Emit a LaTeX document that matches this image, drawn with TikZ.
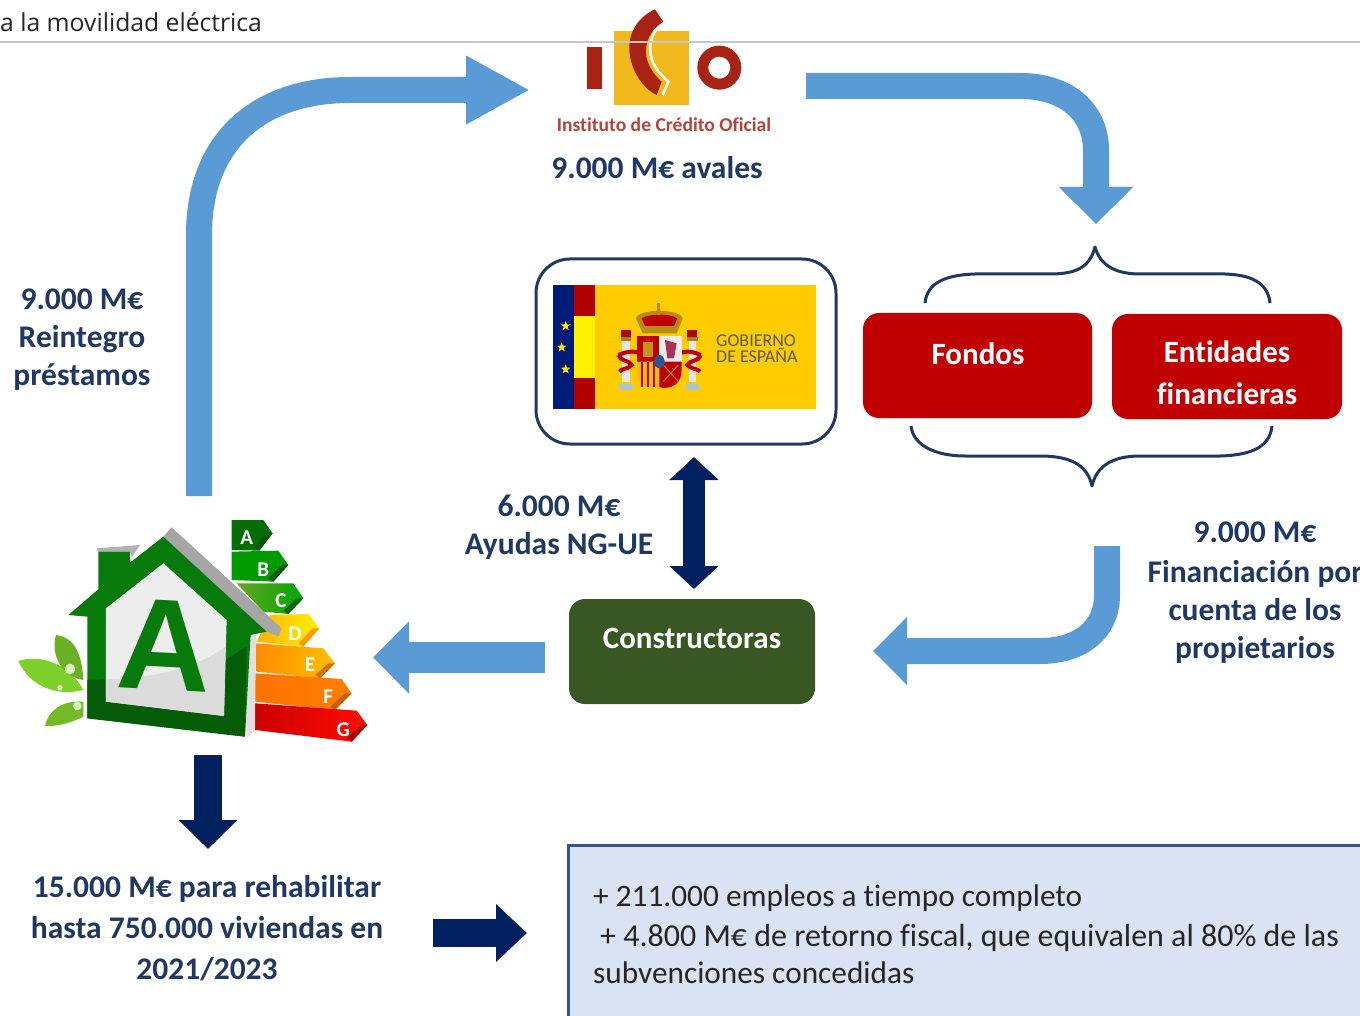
\documentclass[tikz,border=0pt]{standalone}
\usepackage{fontspec}
\setmainfont{Carlito}[Ligatures=NoCommon]
\newfontfamily\hdrfont{Open Sans}
\newfontfamily\heavyfont{Liberation Sans}
\usetikzlibrary{arrows.meta,shapes.geometric}
\definecolor{sky}{HTML}{5B9BD5}
\definecolor{navy}{HTML}{002060}
\definecolor{labelblue}{HTML}{1F3864}
\definecolor{boxred}{HTML}{C00000}
\definecolor{boxgreen}{HTML}{385723}
\definecolor{paleblue}{HTML}{DAE3F3}
\definecolor{edgeblue}{HTML}{2F5597}
\definecolor{icored}{HTML}{A82314}
\definecolor{icoyellow}{HTML}{F2B91E}
\definecolor{govyellow}{HTML}{FFCC00}
\definecolor{housegreen}{HTML}{067A0A}
\definecolor{leafgreen}{HTML}{7FCF2A}
\tikzset{
  flow/.style={draw=sky,line width=26pt,-{Triangle[length=64pt,width=64pt]}},
  flowb/.style={draw=navy,line width=28pt,-{Triangle[length=29pt,width=57pt]}},
  label/.style={text=labelblue,font=\bfseries\fontsize{31.5}{38}\selectfont,align=center,inner sep=0pt},
  boxtext/.style={text=white,font=\bfseries\fontsize{31}{42}\selectfont,align=center,inner sep=0pt},
  redbox/.style={fill=boxred,rounded corners=16pt,inner sep=0pt},
  brace/.style={draw=labelblue,line width=3pt,line join=round},
  result/.style={text=black!85,font=\fontsize{31.3}{38}\selectfont,anchor=mid west,inner sep=0pt},
  barletter/.style={text=white,font=\bfseries\fontsize{21}{21}\selectfont,inner sep=0pt},
  star5/.style={star,star points=5,star point ratio=2.4,fill=yellow!90!orange,minimum size=10pt,inner sep=0pt},
}
\newcommand{\barfacet}[5]{\fill[#1] (#2,#3) -- (#4,#5) -- (#4-14,#5-10) -- (#2-20,#3) -- cycle;}
\begin{document}
\begin{tikzpicture}[x=1pt,y=-1pt]
\clip (0,0) rectangle (1360,1016);
\fill[white] (0,0) rectangle (1360,1016);

% ---- ICO logo
\begin{scope}[shift={(540,0)},x=0.3333pt,y=-0.3333pt]
  \fill[icored] (142,140) rectangle (186,268);
  \fill[icoyellow] (222,92) rectangle (447,316);
  \draw[white,line width=2.5pt] (352,85) .. controls (320,125) and (318,190) .. (385,245) -- (368,285);
  \fill[icored] (345,28) .. controls (285,55) and (265,110) .. (268,150) .. controls (270,200) and (300,260) .. (350,285) -- (365,245) .. controls (335,220) and (315,180) .. (318,150) .. controls (320,110) and (340,85) .. (370,65) -- cycle;
  \draw[icored,line width=11pt] (538,203) circle (49.5);
\end{scope}
\node[text=icored!85,font=\bfseries\fontsize{19.6}{20}\selectfont,inner sep=0pt] (icotext) at (664,125) {Instituto de Crédito Oficial};

% ---- header
\node[anchor=mid west,inner sep=0pt,font=\hdrfont\fontsize{24.7}{25}\selectfont,text=black!85] (hdr) at (0,29) {a la movilidad eléctrica};
\draw[black!22,line width=1.2pt] (0,42) -- (1360,42);

\node[label] (avales) at (657,168) {9.000 M€ avales};

% ---- government box
\node[draw=labelblue,line width=3pt,fill=white,rounded corners=34pt,minimum width=300pt,minimum height=185pt,inner sep=0pt] (gov) at (686,351.5) {};
\begin{scope}[shift={(530,250)},x=0.3333pt,y=-0.3333pt]
  \fill[govyellow] (195,105) rectangle (858,477);
  \fill[navy!85!blue] (70,105) rectangle (132,477);
  \fill[red!70!black] (132,105) rectangle (195,477);
  \fill[yellow] (132,197) rectangle (195,385);
  \node[star5] (s1) at (107,228) {};
  \node[star5] (s2) at (95,292) {};
  \node[star5] (s3) at (107,358) {};
  % columns
  \foreach \cx in {288,487}{
    \fill[black!10] (\cx-11,265) rectangle (\cx+11,395);
    \fill[red!70!black] (\cx-15,240) rectangle (\cx+15,262);
    \fill[icoyellow!70!black] (\cx-16,262) rectangle (\cx+16,272);
    \fill[black!45!cyan!40] (\cx-20,402) rectangle (\cx+20,420);
  }
  % ribbons
  \draw[red!75!black,line width=4pt] (265,315) .. controls (300,300) and (320,305) .. (330,310);
  \draw[red!75!black,line width=4pt] (265,315) .. controls (270,335) and (300,330) .. (305,345) .. controls (290,360) and (275,355) .. (268,365);
  \draw[red!75!black,line width=4pt] (512,315) .. controls (480,300) and (460,305) .. (450,310);
  \draw[red!75!black,line width=4pt] (512,315) .. controls (508,335) and (478,330) .. (472,345) .. controls (488,360) and (503,355) .. (510,365);
  % crown
  \fill[icoyellow!75!black] (318,205) .. controls (325,175) and (450,175) .. (458,205) -- (440,250) -- (338,250) -- cycle;
  \fill[red!75!black] (335,205) .. controls (360,190) and (420,190) .. (442,205) -- (432,228) -- (345,228) -- cycle;
  \fill[icoyellow!75!black] (381,160) -- (391,160) -- (391,195) -- (381,195) -- cycle;
  % shield
  \fill[red!75!black] (320,258) rectangle (388,335);
  \fill[black!8] (388,258) rectangle (455,335);
  \fill[icoyellow] (320,335) -- (388,335) -- (388,412) .. controls (350,420) and (320,400) .. (320,360) -- cycle;
  \foreach \sx in {332,350,368}{\fill[red!75!black] (\sx,335) rectangle (\sx+8,412);}
  \fill[red!75!black] (388,335) -- (455,335) -- (455,360) .. controls (455,400) and (425,420) .. (388,412) -- cycle;
  \fill[icoyellow!80!black] (340,275) rectangle (368,322);
  \fill[purple!60!gray] (405,270) -- (440,280) -- (432,325) -- (412,325) -- cycle;
  \draw[icoyellow!70!black,line width=1pt] (400,345) -- (445,395) (445,345) -- (400,395);
  \fill[edgeblue] (388,335) ellipse (16 and 20);
  \node[text=black!65,font=\fontsize{18}{16}\selectfont,align=left,inner sep=0pt,anchor=west] (govtext) at (558,296) {GOBIERNO\\DE ESPAÑA};
\end{scope}

% ---- red boxes
\node[redbox,minimum width=229pt,minimum height=105pt] (fondos) at (977.5,365.5) {};
\node[boxtext] (fondostxt) at (978,354) {Fondos};
\node[redbox,minimum width=230pt,minimum height=105pt] (entidades) at (1227,366.5) {};
\node[boxtext] (entidadestxt) at (1227,373) {Entidades\\financieras};

% ---- braces
\coordinate (bt1) at (925,303);
\coordinate (btm) at (1095,247);
\coordinate (bt2) at (1270,303);
\coordinate (bb1) at (911,426);
\coordinate (bbm) at (1092,486);
\coordinate (bb2) at (1272,426);
\draw[brace] (bt1) .. controls (927,283) and (945,275) .. (975,274) -- (1050,274) .. controls (1080,274) and (1090,265) .. (btm)
  .. controls (1100,265) and (1115,274) .. (1140,274) -- (1225,274) .. controls (1255,275) and (1268,285) .. (bt2);
\draw[brace] (bb1) .. controls (913,445) and (935,456) .. (965,456) -- (1040,456) .. controls (1075,456) and (1088,468) .. (bbm)
  .. controls (1096,468) and (1110,456) .. (1140,456) -- (1220,456) .. controls (1255,455) and (1270,445) .. (bb2);

% ---- constructoras
\node[fill=boxgreen,rounded corners=16pt,minimum width=246pt,minimum height=105pt,inner sep=0pt] (constr) at (692,651.5) {};
\node[boxtext] (constrtxt) at (692,638) {Constructoras};

% ---- labels
\node[label] (reint) at (82,340) {9.000 M€\\Reintegro\\préstamos};
\node[label] (ayudas) at (559,527) {6.000 M€\\Ayudas NG-UE};
\node[label,anchor=north] (finan) at (1255,522) {9.000 M€\\[2pt]Financiación por\\cuenta de los\\propietarios};
\node[label,font=\bfseries\fontsize{31.5}{41}\selectfont] (rehab) at (207,928) {15.000 M€ para rehabilitar\\hasta 750.000 viviendas en\\2021/2023};

% ---- house (coordinates of a 3x grid)
\begin{scope}[shift={(0,500)},x=0.3333pt,y=-0.3333pt]
  % bars
  \fill[housegreen!90!black] (695,60) -- (790,60) -- (818,100) -- (778,152) -- (695,150) -- cycle;
  \barfacet{green!35!black}{818}{100}{778}{152}
  \fill[green!60!black] (695,155) -- (835,152) -- (865,195) -- (820,245) -- (695,240) -- cycle;
  \barfacet{green!35!black}{865}{195}{820}{245}
  \shade[left color=leafgreen!80!black,right color=green!65!black] (710,250) -- (880,250) -- (910,295) -- (865,342) -- (790,335) -- cycle;
  \barfacet{green!40!black}{910}{295}{865}{342}
  \shade[left color=orange!60!yellow,right color=yellow!90!orange] (810,345) -- (925,342) -- (958,385) -- (910,440) -- (770,425) -- cycle;
  \barfacet{orange!80!yellow}{958}{385}{910}{440}
  \shade[left color=orange!90!yellow,right color=orange!50!yellow] (770,430) -- (970,445) -- (1005,490) -- (960,535) -- (770,515) -- cycle;
  \barfacet{orange!85!black}{1005}{490}{960}{535}
  \shade[left color=orange!90!red,right color=orange] (765,520) -- (1025,537) -- (1055,580) -- (1005,630) -- (765,605) -- cycle;
  \barfacet{orange!75!black}{1055}{580}{1005}{630}
  \shade[left color=red!80!black,right color=red!90!orange] (765,610) -- (1070,632) -- (1102,675) -- (1055,725) -- (765,690) -- cycle;
  \barfacet{red!65!black}{1102}{675}{1055}{725}
  \node[barletter] (la) at (740,112) {A};
  \node[barletter] (lb) at (790,208) {B};
  \node[barletter] (lc) at (843,302) {C};
  \node[barletter] (ld) at (885,400) {D};
  \node[barletter] (le) at (930,495) {E};
  \node[barletter] (lf) at (985,590) {F};
  \node[barletter] (lg) at (1030,688) {G};
  % leaves
  \fill[leafgreen] (55,483) .. controls (110,465) and (200,480) .. (250,570) .. controls (170,590) and (90,560) .. cycle;
  \fill[leafgreen!85!black] (168,405) .. controls (210,410) and (245,440) .. (250,540) .. controls (190,530) and (150,470) .. cycle;
  \fill[leafgreen!90!black] (135,678) .. controls (145,630) and (190,600) .. (250,605) -- (250,650) .. controls (210,670) and (170,680) .. cycle;
  \fill[white!70!leafgreen] (210,507) circle (16);
  \fill[white!70!leafgreen] (180,563) circle (8);
  \fill[white!70!leafgreen] (232,618) circle (13);
  % house body
  \fill[black!35] (515,82) -- (845,385) -- (835,410) -- (800,395) -- (490,110) -- cycle;
  \fill[black!30] (290,145) -- (420,135) -- (395,172) -- (390,155) -- (295,155) -- cycle;
  \fill[black!12] (740,410) -- (768,405) -- (765,690) -- (740,715) -- cycle;
  \fill[housegreen] (205,345) -- (295,268) -- (295,155) -- (390,155) -- (390,188) -- (490,110) -- (800,395) -- (752,405) -- (735,710) -- (262,655) -- (262,350) -- cycle;
  \fill[housegreen!75!black] (262,540) -- (318,538) -- (318,605) -- (672,648) -- (676,480) -- (740,440) -- (735,710) -- (262,655) -- cycle;
  \fill[black!7] (318,325) -- (490,190) -- (680,360) -- (672,648) -- (318,605) -- cycle;
  \fill[black!14] (318,538) .. controls (450,535) and (580,510) .. (677,440) -- (672,648) -- (318,605) -- cycle;
  \node[text=housegreen,font=\heavyfont\bfseries\fontsize{130}{130}\selectfont,inner sep=0pt,rotate=-3] (bigA) at (495,436) {A};
\end{scope}

% ---- coordinates of the free arrow ends
\coordinate (a1s) at (199,496);
\coordinate (a1e) at (530,90);
\coordinate (a2s) at (806,86);
\coordinate (a2e) at (1096,224);
\coordinate (a3s) at (1107,546);
\coordinate (a3e) at (873,651);
\coordinate (a4s) at (545,657.5);
\coordinate (a4e) at (373,657.5);
\coordinate (a5s) at (694,457);
\coordinate (a5e) at (694,589);
\coordinate (a6s) at (208,755);
\coordinate (a6e) at (208,849);
\coordinate (a7s) at (433,933);
\coordinate (a7e) at (527,933);

\draw[flow] (a1s) -- (199,235) .. controls (199,140) and (260,90) .. (350,90) -- (a1e);
\draw[flow,-{Triangle[length=37pt,width=72pt]}] (a2s) -- (1020,86) .. controls (1070,86) and (1096,115) .. (1096,150) -- (a2e);
\draw[flow,-{Triangle[length=34pt,width=66pt]}] (a3s) -- (1107,595) .. controls (1107,630) and (1080,651) .. (1040,651) -- (a3e);
\draw[flow,line width=31pt,-{Triangle[length=36pt,width=70pt]}] (a4s) -- (a4e);
\draw[draw=navy,line width=22pt,{Triangle[length=23pt,width=48pt]}-{Triangle[length=23pt,width=48pt]}] (a5s) -- (a5e);
\draw[flowb] (a6s) -- (a6e);
\draw[flowb,-{Triangle[length=31pt,width=56pt]}] (a7s) -- (a7e);

% ---- result box
\node[draw=edgeblue,line width=3pt,fill=paleblue,minimum width=840pt,minimum height=240pt,inner sep=0pt,anchor=north west] (resbox) at (566.5,844) {};
\node[result] (r1) at (593,904) {+ 211.000 empleos a tiempo completo};
\node[result,font=\fontsize{32}{38}\selectfont] (r2) at (600,944) {+ 4.800 M€ de retorno fiscal, que equivalen al 80\% de las};
\node[result] (r3) at (593,981) {subvenciones concedidas};
\end{tikzpicture}
\end{document}
